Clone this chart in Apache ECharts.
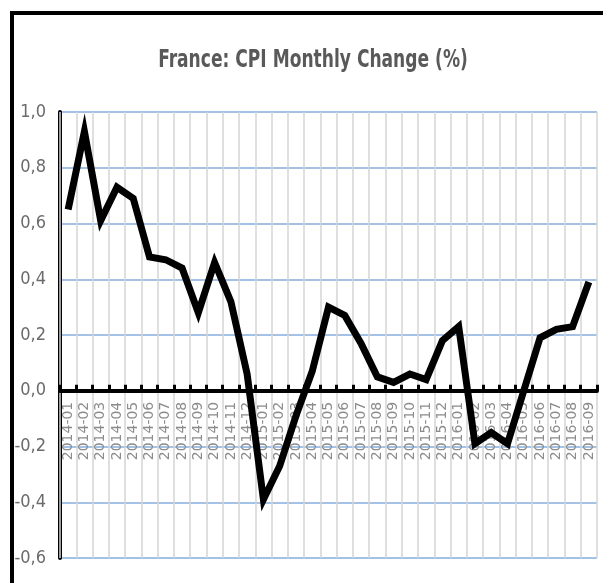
<!DOCTYPE html>
<html>
<head>
<meta charset="utf-8">
<script src="https://cdn.jsdelivr.net/npm/echarts@6/dist/echarts.min.js"></script>
<style>
  html, body { margin: 0; padding: 0; background: #fff; }
  #main { width: 603px; height: 583px; }
</style>
</head>
<body>
<div id="main"></div>
<script>
var months = ['2014-01', '2014-02', '2014-03', '2014-04', '2014-05', '2014-06', '2014-07', '2014-08', '2014-09', '2014-10', '2014-11', '2014-12',
  '2015-01', '2015-02', '2015-03', '2015-04', '2015-05', '2015-06', '2015-07', '2015-08', '2015-09', '2015-10', '2015-11', '2015-12',
  '2016-01', '2016-02', '2016-03', '2016-04', '2016-05', '2016-06', '2016-07', '2016-08', '2016-09'];
var cpiChange = [0.65, 0.93, 0.61, 0.73, 0.69, 0.48, 0.47, 0.44, 0.28, 0.46, 0.32, 0.06,
  -0.39, -0.27, -0.09, 0.07, 0.30, 0.27, 0.17, 0.05, 0.03, 0.06, 0.04, 0.18,
  0.23, -0.19, -0.15, -0.19, 0.0, 0.19, 0.22, 0.23, 0.39];
var yMin = -0.6, yMax = 1.0, yStep = 0.2;

var gridBottom = 25;
var chart = echarts.init(document.getElementById('main'));
var option = {
  backgroundColor: '#fff',
  animation: false,
  graphic: [{
    // frame around the chart (runs off the right/bottom of the picture)
    type: 'rect',
    shape: { x: 12, y: 13, width: 700, height: 700 },
    style: { fill: null, stroke: '#000', lineWidth: 4 },
    silent: true
  }, {
    // title, squeezed to look like the narrow original font
    type: 'text',
    x: 313,
    y: 60,
    scaleX: 0.76,
    style: {
      text: 'France: CPI Monthly Change (%)',
      fontFamily: 'DejaVu Sans Condensed, sans-serif',
      fontSize: 25,
      fontWeight: 'bold',
      fill: '#595959',
      align: 'center',
      verticalAlign: 'middle'
    }
  }],
  grid: { left: 60, right: 6, top: 112, bottom: gridBottom, outerBoundsMode: 'none' },
  xAxis: {
    type: 'category',
    data: months,
    boundaryGap: true,
    axisLine: { onZero: false, lineStyle: { color: '#000', width: 4 } },
    axisTick: { show: true, inside: true, length: 6, interval: 0, lineStyle: { color: '#000', width: 3 } },
    axisLabel: {
      interval: 0,
      rotate: 90,
      margin: 11,
      fontFamily: 'DejaVu Sans',
      fontSize: 14,
      color: '#8c8c8c'
    },
    splitLine: { show: true, interval: 0, lineStyle: { color: '#d4d4d4', width: 1.5 } },
    z: 4
  },
  yAxis: {
    type: 'value',
    min: yMin,
    max: yMax,
    interval: yStep,
    axisLine: { show: true, lineStyle: { color: '#000', width: 4 } },
    axisTick: { show: false },
    axisLabel: {
      margin: 14,
      fontFamily: 'DejaVu Sans Condensed, sans-serif',
      fontSize: 18,
      color: '#6b6b6b',
      formatter: function (v) {
        return v.toFixed(1).replace('.', ',');
      }
    },
    splitLine: { show: true, lineStyle: { color: '#86aede', width: 1.5 } }
  },
  series: [{
    name: 'CPI',
    type: 'line',
    data: cpiChange,
    showSymbol: false,
    symbol: 'none',
    lineStyle: { color: '#000', width: 7, join: 'miter' },
    z: 5
  }]
};
chart.setOption(option);

// put the category axis (line, ticks and labels) on the zero line
var zeroY = chart.convertToPixel({ yAxisIndex: 0 }, 0);
var bottomY = chart.getHeight() - gridBottom;
chart.setOption({ xAxis: { offset: zeroY - bottomY } });
</script>
</body>
</html>
